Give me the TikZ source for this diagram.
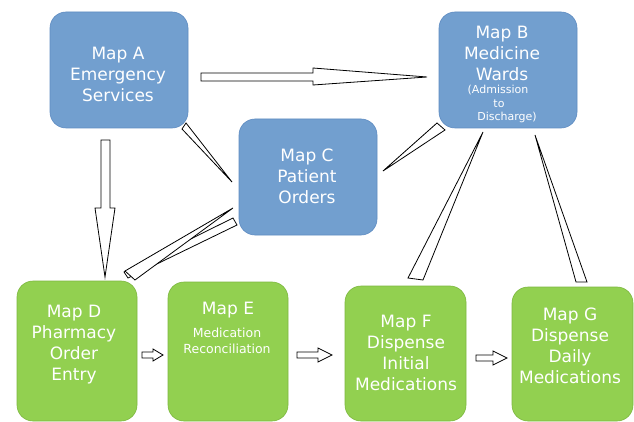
\documentclass[tikz,border=0pt]{standalone}
\usepackage{fontspec}
\setmainfont{DejaVu Sans}
\definecolor{boxblue}{HTML}{729FCF}
\definecolor{blueline}{HTML}{5F8CC2}
\definecolor{boxgreen}{HTML}{92D050}
\definecolor{greenline}{HTML}{7DB83F}
\tikzset{
  mapbox/.style={rectangle, rounded corners=16pt, inner sep=0pt, outer sep=0pt, line width=0.6pt},
  bluebox/.style={mapbox, fill=boxblue, draw=blueline},
  greenbox/.style={mapbox, fill=boxgreen, draw=greenline},
  bigtxt/.style={text=white, align=center, inner sep=0pt, font=\fontsize{17}{21}\selectfont},
  smalltxt/.style={text=white, align=center, inner sep=0pt, font=\fontsize{11}{13}\selectfont},
  midtxt/.style={text=white, align=center, inner sep=0pt, font=\fontsize{12.5}{16}\selectfont},
  blockarrow/.style={draw=black, fill=white, line width=0.8pt, line join=miter}
}
\begin{document}
\begin{tikzpicture}[x=1pt,y=-1pt]
\useasboundingbox (0,0) rectangle (634,422);
\fill[white] (0,0) rectangle (634,422);

% boxes
\node[bluebox, minimum width=138pt, minimum height=116pt] (A) at (119,70) {};
\node[bluebox, minimum width=138pt, minimum height=116pt] (B) at (508,70) {};
\node[bluebox, minimum width=138pt, minimum height=116pt] (C) at (308,177) {};
\node[greenbox, minimum width=120pt, minimum height=140pt] (D) at (77,351) {};
\node[greenbox, minimum width=120pt, minimum height=139pt] (E) at (228,351.5) {};
\node[greenbox, minimum width=121pt, minimum height=135pt] (F) at (405.5,353.5) {};
\node[greenbox, minimum width=121pt, minimum height=134pt] (G) at (572.5,354) {};

% texts
\node[bigtxt] (tA) at (118,74) {Map A\\Emergency\\Services};
\node[bigtxt] (tB) at (502,53) {Map B\\Medicine\\Wards};
\node[smalltxt] (tB1) at (498,90) {(Admission};
\node[smalltxt] (tB2) at (499,103.5) {to};
\node[smalltxt] (tB3) at (507,117) {Discharge)};
\node[bigtxt] (tC) at (307,176) {Map C\\Patient\\Orders};
\node[bigtxt] (tD) at (74,345) {Map D\\Pharmacy\\Order\\Entry};
\node[bigtxt] (tE) at (228,310) {Map E};
\node[midtxt] (tE2) at (227,341) {Medication\\Reconciliation};
\node[bigtxt] (tF) at (406,352.5) {Map F\\Dispense\\Initial\\Medications};
\node[bigtxt] (tG) at (570,345.5) {Map G\\Dispense\\Daily\\Medications};

% block arrows
\draw[blockarrow] (201,73) -- (313,73) -- (313,68) -- (427,77) -- (313,85) -- (313,81) -- (201,81) -- cycle;
\draw[blockarrow] (101,140) -- (110,140) -- (110,208) -- (115,208) -- (105,277) -- (95,208) -- (101,208) -- cycle;
\draw[blockarrow] (142,352) -- (153,352) -- (153,349) -- (163,355) -- (153,361) -- (153,358) -- (142,358) -- cycle;
\draw[blockarrow] (297,352) -- (318,352) -- (318,348) -- (332,355) -- (318,362) -- (318,358) -- (297,358) -- cycle;
\draw[blockarrow] (476,355) -- (493,355) -- (493,351) -- (507,358) -- (493,365) -- (493,361) -- (476,361) -- cycle;

% wedges
\draw[blockarrow] (186,123) -- (232,182) -- (182,129) -- cycle;
\draw[blockarrow] (437,123) -- (445,130) -- (383,171) -- cycle;
\draw[blockarrow] (483,132) -- (423,280) -- (408,278) -- cycle;
\draw[blockarrow] (535,135) -- (587,282) -- (576,282) -- cycle;
\draw[blockarrow] (124,272) -- (233,218) -- (237,225) -- (128,278) -- cycle;
\draw[blockarrow] (233,208) -- (125,271) -- (135,280) -- cycle;
\end{tikzpicture}
\end{document}
